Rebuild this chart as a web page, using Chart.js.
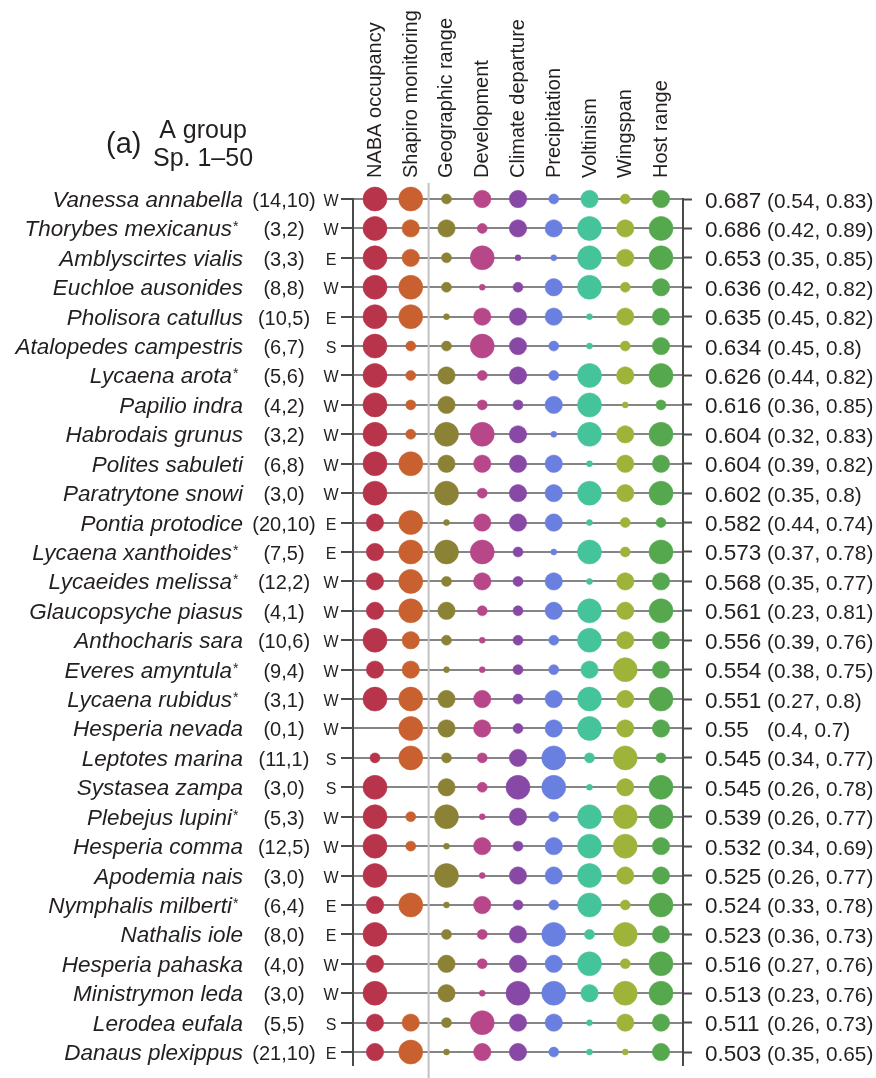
<!DOCTYPE html>
<html>
<head>
<meta charset="utf-8">
<script src="https://cdn.jsdelivr.net/npm/chart.js@4.4.1/dist/chart.umd.min.js"></script>
<style>
  html, body { margin: 0; padding: 0; background: #ffffff; }
  #wrap { width: 876px; height: 1078px; position: relative; }
</style>
</head>
<body>
<div id="wrap"><canvas id="chart" width="876" height="1078"></canvas></div>
<script>
// Species ranked by estimated sensitivity (top to bottom)
const species = [
  'Vanessa annabella', 'Thorybes mexicanus*', 'Amblyscirtes vialis', 'Euchloe ausonides',
  'Pholisora catullus', 'Atalopedes campestris', 'Lycaena arota*', 'Papilio indra',
  'Habrodais grunus', 'Polites sabuleti', 'Paratrytone snowi', 'Pontia protodice',
  'Lycaena xanthoides*', 'Lycaeides melissa*', 'Glaucopsyche piasus', 'Anthocharis sara',
  'Everes amyntula*', 'Lycaena rubidus*', 'Hesperia nevada', 'Leptotes marina',
  'Systasea zampa', 'Plebejus lupini*', 'Hesperia comma', 'Apodemia nais',
  'Nymphalis milberti*', 'Nathalis iole', 'Hesperia pahaska', 'Ministrymon leda',
  'Lerodea eufala', 'Danaus plexippus'
];

// Number of sites (NABA, Shapiro)
const siteCounts = [
  '(14,10)', '(3,2)', '(3,3)', '(8,8)', '(10,5)', '(6,7)', '(5,6)', '(4,2)',
  '(3,2)', '(6,8)', '(3,0)', '(20,10)', '(7,5)', '(12,2)', '(4,1)', '(10,6)',
  '(9,4)', '(3,1)', '(0,1)', '(11,1)', '(3,0)', '(5,3)', '(12,5)', '(3,0)',
  '(6,4)', '(8,0)', '(4,0)', '(3,0)', '(5,5)', '(21,10)'
];

// Region code
const regions = [
  'W', 'W', 'E', 'W', 'E', 'S', 'W', 'W', 'W', 'W', 'W', 'E', 'E', 'W', 'W',
  'W', 'W', 'W', 'W', 'S', 'S', 'W', 'W', 'W', 'E', 'E', 'W', 'W', 'S', 'E'
];

// Posterior estimate with 95% interval
const estimates = [
  0.687, 0.686, 0.653, 0.636, 0.635, 0.634, 0.626, 0.616, 0.604, 0.604,
  0.602, 0.582, 0.573, 0.568, 0.561, 0.556, 0.554, 0.551, 0.55, 0.545,
  0.545, 0.539, 0.532, 0.525, 0.524, 0.523, 0.516, 0.513, 0.511, 0.503
];
const ciLower = [
  0.54, 0.42, 0.35, 0.42, 0.45, 0.45, 0.44, 0.36, 0.32, 0.39,
  0.35, 0.44, 0.37, 0.35, 0.23, 0.39, 0.38, 0.27, 0.4, 0.34,
  0.26, 0.26, 0.34, 0.26, 0.33, 0.36, 0.27, 0.23, 0.26, 0.35
];
const ciUpper = [
  0.83, 0.89, 0.85, 0.82, 0.82, 0.8, 0.82, 0.85, 0.83, 0.82,
  0.8, 0.74, 0.78, 0.77, 0.81, 0.76, 0.75, 0.8, 0.7, 0.77,
  0.78, 0.77, 0.69, 0.77, 0.78, 0.73, 0.76, 0.76, 0.73, 0.65
];

// Predictor columns
const traits = [
  'NABA occupancy', 'Shapiro monitoring', 'Geographic range', 'Development',
  'Climate departure', 'Precipitation', 'Voltinism', 'Wingspan', 'Host range'
];
const traitColors = [
  '#b8344b', '#c8612f', '#8b8235', '#b8478a', '#8849a6',
  '#6a80e0', '#45c49b', '#9db33a', '#56a84f'
];

// Contribution class of each predictor per species (0 = none, 1..4 = small..large)
const nabaOccupancy     = [4,4,4,4,4,4,4,4,4,4,4,3,3,3,3,4,3,4,0,2,4,4,4,4,3,4,3,4,3,3];
const shapiroMonitoring = [4,3,3,4,4,2,2,2,2,4,0,4,4,4,4,3,3,4,4,4,0,2,2,0,4,0,0,0,3,4];
const geographicRange   = [2,3,2,2,1,2,3,3,4,3,4,1,4,2,3,2,1,3,3,2,3,4,1,4,1,2,3,3,2,1];
const development       = [3,2,4,1,3,4,2,2,4,3,2,3,4,3,2,1,1,3,3,2,2,1,3,1,3,2,2,1,4,3];
const climateDeparture  = [3,3,1,2,3,3,3,2,3,3,3,3,2,2,2,2,2,2,2,3,4,3,2,3,2,3,3,4,3,3];
const precipitation     = [2,3,1,3,3,2,2,3,1,3,3,3,1,3,3,2,2,3,3,4,4,2,3,3,2,4,3,4,3,2];
const voltinism         = [3,4,4,4,1,1,4,4,4,1,4,1,4,1,4,4,3,4,4,2,1,4,4,4,4,2,4,3,1,1];
const wingspan          = [2,3,3,2,3,2,3,1,3,3,3,2,2,3,3,3,4,3,3,4,3,4,4,3,2,4,2,4,3,1];
const hostRange         = [3,4,4,3,3,3,4,2,4,3,4,2,4,3,4,3,3,4,3,2,4,4,3,3,4,3,4,4,3,3];

const traitValues = [
  nabaOccupancy, shapiroMonitoring, geographicRange, development,
  climateDeparture, precipitation, voltinism, wingspan, hostRange
];

// Bubble radius (px) for each contribution class
const classRadius = [0, 3, 5, 8.7, 12];

const FONT = '"Liberation Sans", Arial, Helvetica, sans-serif';
const INK = '#231f20';
const yMax = species.length - 1 + 0.44;

const datasets = traits.map((name, j) => ({
  label: name,
  data: traitValues[j]
    .map((v, i) => ({ x: j, y: i, r: classRadius[v], v }))
    .filter(p => p.v > 0),
  backgroundColor: traitColors[j],
  borderColor: traitColors[j] + '88',
  borderWidth: 1,
  clip: false
}));

const labelPlugin = {
  id: 'rowLabels',
  beforeDatasetsDraw(chart) {
    const { ctx, chartArea, scales } = chart;
    // separator between monitoring inputs and species traits
    const sx = scales.x.getPixelForValue(1.5);
    ctx.save();
    ctx.strokeStyle = '#c2c2c2';
    ctx.lineWidth = 2;
    ctx.beginPath();
    ctx.moveTo(sx, chartArea.top - 16);
    ctx.lineTo(sx, chart.height);
    ctx.stroke();
    ctx.restore();
  },
  afterDraw(chart) {
    const { ctx, chartArea, scales } = chart;
    const ys = scales.y;
    const L = chartArea.left, R = chartArea.right;
    ctx.save();
    ctx.fillStyle = INK;

    // panel title
    ctx.textBaseline = 'alphabetic';
    ctx.textAlign = 'left';
    ctx.font = `29px ${FONT}`;
    ctx.fillText('(a)', 106, 153);
    ctx.textAlign = 'center';
    ctx.font = `25px ${FONT}`;
    ctx.fillText('A group', 203, 138);
    ctx.fillText('Sp. 1\u201350', 203, 166);

    // column headers, rotated
    ctx.font = `20px ${FONT}`;
    ctx.textAlign = 'left';
    traits.forEach((t, j) => {
      const x = scales.x.getPixelForValue(j);
      ctx.save();
      ctx.translate(x + 6, chartArea.top - 21);
      ctx.rotate(-Math.PI / 2);
      ctx.fillText(t, 0, 0);
      ctx.restore();
    });

    species.forEach((name, i) => {
      const y = ys.getPixelForValue(i);
      const starred = name.endsWith('*');
      const base = starred ? name.slice(0, -1) : name;
      ctx.textBaseline = 'alphabetic';

      // species name (italic), with superscript-like asterisk
      ctx.font = `italic 22.5px ${FONT}`;
      ctx.textAlign = 'right';
      const nameEnd = starred ? L - 121 : L - 110;
      ctx.fillText(base, nameEnd, y + 8);
      if (starred) {
        ctx.font = `14px ${FONT}`;
        ctx.textAlign = 'left';
        ctx.fillText('*', nameEnd + 1, y + 3);
      }

      // site counts
      ctx.font = `20px ${FONT}`;
      ctx.textAlign = 'center';
      ctx.fillText(siteCounts[i], L - 69, y + 8);

      // region
      ctx.font = `16px ${FONT}`;
      ctx.fillText(regions[i], L - 22, y + 7);

      // estimate and interval
      ctx.textAlign = 'left';
      ctx.font = `22.5px ${FONT}`;
      ctx.fillText(String(estimates[i]), R + 22, y + 8.5);
      ctx.font = `20.8px ${FONT}`;
      ctx.fillText(`(${ciLower[i]}, ${ciUpper[i]})`, R + 84, y + 8.5);
    });
    ctx.restore();
  }
};

const rowTicks = s => { s.ticks = species.map((_, i) => ({ value: i })); };

new Chart(document.getElementById('chart'), {
  type: 'bubble',
  data: { datasets },
  options: {
    responsive: false,
    animation: false,
    devicePixelRatio: 1,
    layout: { padding: { left: 341, right: 184, top: 199, bottom: 0 } },
    plugins: { legend: { display: false }, tooltip: { enabled: false } },
    scales: {
      x: { type: 'linear', min: -0.615, max: 8.615, display: false },
      y: {
        type: 'linear', position: 'left', reverse: true, min: 0, max: yMax,
        afterBuildTicks: rowTicks,
        ticks: { display: false },
        grid: { color: '#858585', lineWidth: 2, drawTicks: true, tickLength: 12, tickColor: '#4a4a4a', tickWidth: 2 },
        border: { display: true, color: '#4a4a4a', width: 2 }
      },
      y2: {
        type: 'linear', position: 'right', reverse: true, min: 0, max: yMax,
        afterBuildTicks: rowTicks,
        ticks: { display: false },
        grid: { drawOnChartArea: false, drawTicks: true, tickLength: 9, tickColor: '#4a4a4a', tickWidth: 2 },
        border: { display: true, color: '#4a4a4a', width: 2 }
      }
    }
  },
  plugins: [labelPlugin]
});
</script>
</body>
</html>
